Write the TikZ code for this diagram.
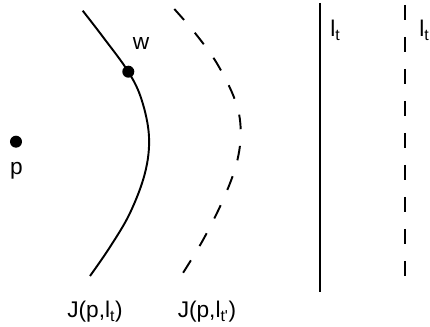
\documentclass[tikz,border=0pt]{standalone}
\usepackage{fontspec}
\setmainfont{Liberation Sans}
\begin{document}
\begin{tikzpicture}[x=0.75pt,y=-0.75pt,
  curve/.style={line width=1.45pt},
  dashcurve/.style={line width=1.45pt,dash pattern=on 11pt off 12.5pt},
  lbl/.style={inner sep=0pt,font=\fontsize{17}{20}\selectfont},
  dotnode/.style={circle,fill=black,inner sep=0pt,minimum size=9pt}]
\useasboundingbox (0,0) rectangle (430,327);
% solid curve
\draw[curve] plot[smooth,tension=0.6] coordinates{(82.7,10.7)(103,37)(128.3,71.7)(141.7,100)(149,136.7)(145,173)(130,213)(110,247)(90,276)};
% dashed curve
\draw[dashcurve] plot[smooth,tension=0.6] coordinates{(174.3,9)(195,33)(216.7,63)(235,100)(240.7,130)(236.7,163)(223,200)(203,240)(181.7,275)};
% points
\node[dotnode] (w) at (128.3,71.7) {};
\node[dotnode] (p) at (16,141.7) {};
\node[lbl] (wl) at (141,44) {w};
\node[lbl] (pl) at (16.5,171) {p};
% vertical lines
\coordinate (s1) at (320,3);
\coordinate (s2) at (320,292);
\draw[curve] (s1) -- (s2);
\coordinate (d1) at (405.3,5);
\coordinate (d2) at (405.3,278);
\draw[line width=1.45pt,dash pattern=on 11.25pt off 12.75pt] (d1) -- (d2);
\node[lbl,anchor=base west] (lt1) at (330,37) {l\textsubscript{t}};
\node[lbl,anchor=base west] (lt2) at (419,37) {l\textsubscript{t}};
% bottom labels
\node[lbl,anchor=base] (J1) at (95,318) {J(p,l\textsubscript{t})};
\node[lbl,anchor=base] (J2) at (207,318) {J(p,l\textsubscript{t\textquotesingle})};
\end{tikzpicture}
\end{document}
